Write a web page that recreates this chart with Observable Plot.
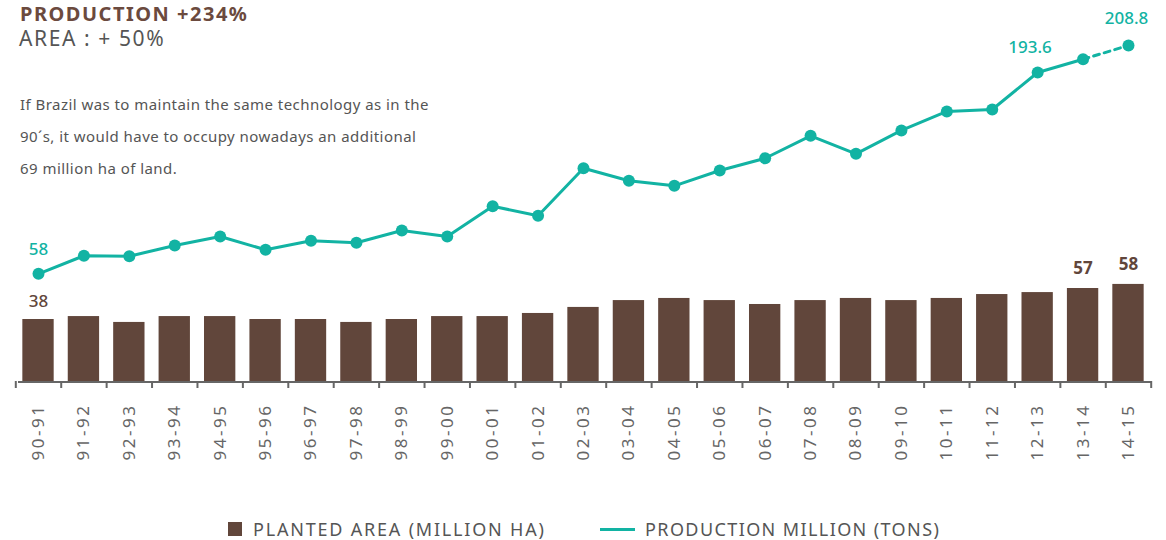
<!DOCTYPE html>
<html><head><meta charset="utf-8">
<script src="https://cdn.jsdelivr.net/npm/d3@7"></script>
<script src="https://cdn.jsdelivr.net/npm/@observablehq/plot@0.6"></script>
<style>
body{margin:0;background:#fff;font-family:"Noto Sans",sans-serif;}
#wrap{position:relative;width:1166px;height:540px;overflow:hidden;background:#fff;}
#wrap svg{position:absolute;left:0;top:0;}
.txt{position:absolute;white-space:nowrap;}
.ticklab text{letter-spacing:2.5px;}
</style></head>
<body>
<div id="wrap">
</div>
<script>
const cats = ["90-91","91-92","92-93","93-94","94-95","95-96","96-97","97-98","98-99","99-00","00-01","01-02","02-03","03-04","04-05","05-06","06-07","07-08","08-09","09-10","10-11","11-12","12-13","13-14","14-15"];
const area = [38,39.8,36.2,39.8,39.8,38,38,36.2,38,39.8,39.8,41.7,45.4,49.6,50.9,49.6,47.2,49.6,50.9,49.6,50.9,53.3,54.5,57,59.5];
const production = [58,69.4,69.1,75.9,81.6,73.2,78.9,77.6,85.4,81.6,100.7,94.7,124.7,116.8,113.6,123.3,131.0,145.2,133.8,148.6,160.6,161.8,185.2,193.6,202.3];
const areaLabelCats = ["90-91","13-14","14-15"];
const areaLabelTexts = ["38","57","58"];
const prodLabelCats = ["90-91","13-14","14-15"];
const prodLabelTexts = ["58","193.6","208.8"];
const legendLabels = ["PLANTED AREA (MILLION HA)","PRODUCTION MILLION (TONS)"];

const brown = "#61463b", teal = "#12b3a3", gray = "#666";
const table = cats.map((c,i)=>({cat:c, area:area[i], prod:production[i]}));
const areaLab = areaLabelCats.map((c,i)=>({cat:c, value:area[cats.indexOf(c)], text:areaLabelTexts[i]}));
const prodLab = prodLabelCats.map((c,i)=>({cat:c, value:production[cats.indexOf(c)], text:prodLabelTexts[i]}));

const x0 = 15.3, x1 = 1150.7, step = (x1-x0)/cats.length;
const xOpt = {type:"band", domain:cats, range:[x0,x1], paddingInner:0.31, paddingOuter:0.155, round:false, axis:null};
const common = {width:1166, height:500, marginTop:0, marginBottom:119, marginLeft:18, marginRight:15,
  style:{background:"transparent", overflow:"visible", fontFamily:"Noto Sans"}};

const base = Plot.plot({...common,
  x:xOpt,
  y:{domain:[0,38], range:[381,319], axis:null},
  marks:[
    Plot.barY(table, {x:"cat", y:"area", fill:brown}),
    Plot.ruleY([0], {stroke:gray, strokeWidth:2, dy:0.5}),
    Plot.ruleX(cats, {x:d=>d, y1:0, y2:0, insetBottom:-7, dx:-step/2, stroke:gray, strokeWidth:2}),
    Plot.ruleX([cats[cats.length-1]], {x:d=>d, y1:0, y2:0, insetBottom:-7, dx:step/2, stroke:gray, strokeWidth:2}),
    Plot.text(cats, {x:d=>d, y:0, dy:22, rotate:-90, textAnchor:"end", lineAnchor:"middle", fontSize:17, fill:gray, className:"ticklab"}),
    Plot.text(areaLab.slice(0,1), {x:"cat", y:"value", text:"text", dy:-18, lineAnchor:"middle", fill:brown, fontSize:17, fontWeight:500}),
    Plot.text(areaLab.slice(1), {x:"cat", y:"value", text:"text", dy:-20, lineAnchor:"middle", fill:brown, fontSize:17, fontWeight:700})
  ]});

const lineP = Plot.plot({...common,
  x:xOpt,
  y:{domain:[58,193.6], range:[273.3,58.7], axis:null},
  marks:[
    Plot.line(table.slice(0,24), {x:"cat", y:"prod", stroke:teal, strokeWidth:3}),
    Plot.line(table.slice(23), {x:"cat", y:"prod", stroke:teal, strokeWidth:3, strokeDasharray:"6,5"}),
    Plot.dot(table, {x:"cat", y:"prod", r:6, fill:teal}),
    Plot.text(prodLab.slice(0,1), {x:"cat", y:"value", text:"text", dy:-24, lineAnchor:"middle", fill:teal, fontSize:17, fontWeight:500}),
    Plot.text(prodLab.slice(1,2), {x:"cat", y:"value", text:"text", dx:-53, dy:-12, lineAnchor:"middle", fill:teal, fontSize:17, fontWeight:500}),
    Plot.text(prodLab.slice(2), {x:"cat", y:"value", text:"text", dx:-2, dy:-27, lineAnchor:"middle", fill:teal, fontSize:17, fontWeight:500})
  ]});

const wrap = document.getElementById("wrap");
wrap.appendChild(base);
wrap.appendChild(lineP);
base.querySelectorAll(".ticklab text, g.ticklab text").forEach(t=>t.style.letterSpacing="2.5px");

function addDiv(html, css){
  const d = document.createElement("div");
  d.className = "txt"; d.innerHTML = html; d.style.cssText += css; wrap.appendChild(d); return d;
}
addDiv("PRODUCTION +234%", "left:20px;top:3.6px;font-size:20px;line-height:1;font-weight:700;color:#6b4a3e;letter-spacing:1.5px;");
addDiv("AREA : + 50%", "left:19px;top:28px;font-size:21px;line-height:1;color:#555;letter-spacing:1.6px;");
addDiv("If Brazil was to maintain the same technology as in the<br>90´s, it would have to occupy nowadays an additional<br>69 million ha of land.",
  "left:20px;top:88px;font-size:15px;line-height:32px;color:#555;letter-spacing:0.45px;");
addDiv("", `left:228px;top:522px;width:14px;height:14px;background:${brown};`);
addDiv(legendLabels[0], "left:253px;top:519px;font-size:18px;line-height:20px;color:#555;letter-spacing:1.8px;");
addDiv("", `left:600px;top:528px;width:35px;height:3px;background:${teal};`);
addDiv(legendLabels[1], "left:645px;top:519px;font-size:18px;line-height:20px;color:#555;letter-spacing:1.4px;");
</script>
</body></html>
